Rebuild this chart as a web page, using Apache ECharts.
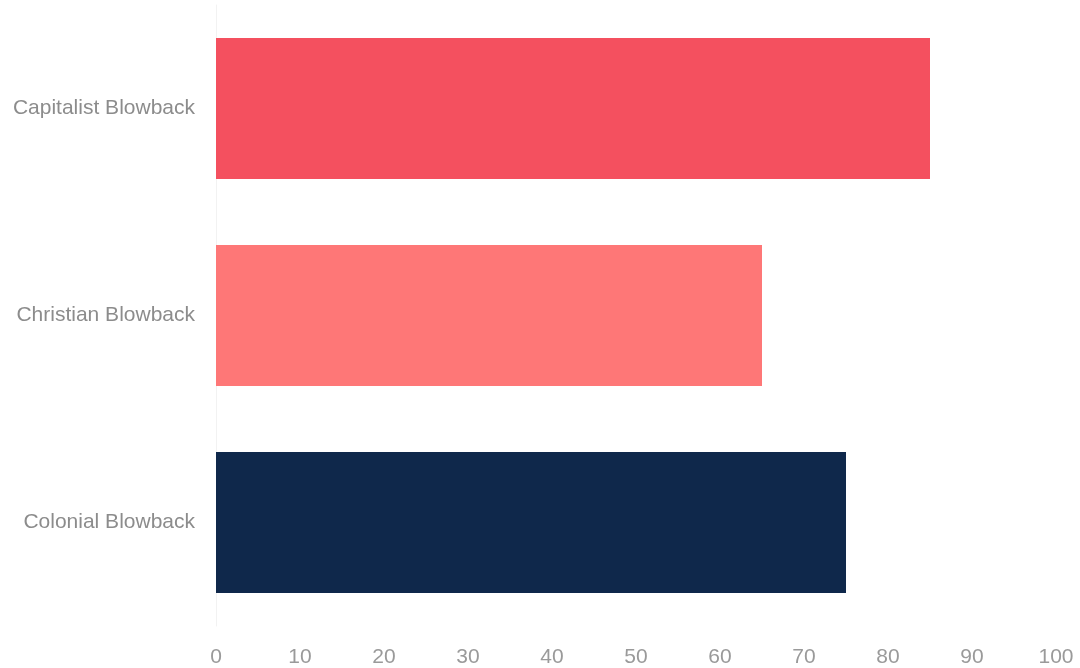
<!DOCTYPE html>
<html>
<head>
<meta charset="utf-8">
<script src="https://cdn.jsdelivr.net/npm/echarts@6/dist/echarts.min.js"></script>
<style>html,body{margin:0;padding:0;background:#fff}#c{width:1080px;height:668px}</style>
</head>
<body>
<div id="c"></div>
<script>
const categories = ["Capitalist Blowback", "Christian Blowback", "Colonial Blowback"];
const values = [85, 65, 75];
const barColors = ["#F4505F", "#FE7777", "#0F284B"];

const chart = echarts.init(document.getElementById('c'), null, {renderer: 'canvas'});
chart.setOption({
  animation: false,
  backgroundColor: '#ffffff',
  grid: {left: 216, right: 24, top: 5, bottom: 42},
  xAxis: {
    type: 'value', min: 0, max: 100, interval: 10,
    axisLine: {show: false}, axisTick: {show: false}, splitLine: {show: false},
    axisLabel: {color: '#9a9a9a', fontSize: 21, fontFamily: 'Liberation Sans, Arial, sans-serif', margin: 21}
  },
  yAxis: {
    type: 'category', data: categories, inverse: true,
    axisLine: {show: true, lineStyle: {color: '#f2f2f2', width: 1}},
    axisTick: {show: false},
    axisLabel: {color: '#8c8c8c', fontSize: 21, fontFamily: 'Liberation Sans, Arial, sans-serif', margin: 21}
  },
  series: [{
    type: 'bar',
    barWidth: '68%',
    data: values.map((v, i) => ({value: v, itemStyle: {color: barColors[i]}}))
  }]
});
</script>
</body>
</html>
